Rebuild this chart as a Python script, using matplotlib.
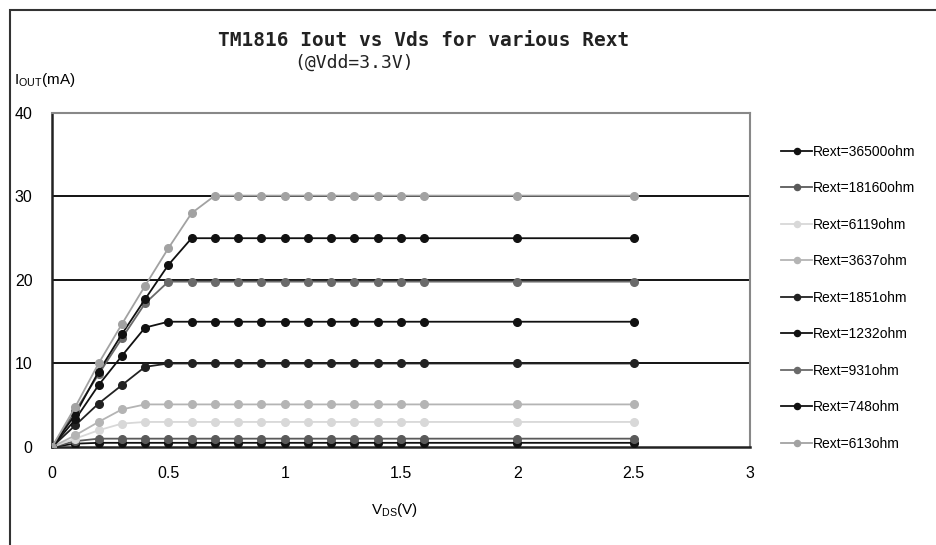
import matplotlib.pyplot as plt
from matplotlib.patches import Rectangle

# Vds sample points (V)
vds = [0, 0.1, 0.2, 0.3, 0.4, 0.5, 0.6, 0.7, 0.8, 0.9, 1.0,
       1.1, 1.2, 1.3, 1.4, 1.5, 1.6, 2.0, 2.5]

# Iout (mA)
r36500 = [0, 0.4, 0.5, 0.5, 0.5, 0.5, 0.5, 0.5, 0.5, 0.5, 0.5, 0.5, 0.5, 0.5, 0.5, 0.5, 0.5, 0.5, 0.5]
r18160 = [0, 0.7, 1.0, 1.0, 1.0, 1.0, 1.0, 1.0, 1.0, 1.0, 1.0, 1.0, 1.0, 1.0, 1.0, 1.0, 1.0, 1.0, 1.0]
r6119 = [0, 1.0, 2.0, 2.8, 3.0, 3.0, 3.0, 3.0, 3.0, 3.0, 3.0, 3.0, 3.0, 3.0, 3.0, 3.0, 3.0, 3.0, 3.0]
r3637 = [0, 1.4, 3.0, 4.5, 5.1, 5.1, 5.1, 5.1, 5.1, 5.1, 5.1, 5.1, 5.1, 5.1, 5.1, 5.1, 5.1, 5.1, 5.1]
r1851 = [0, 2.6, 5.2, 7.4, 9.6, 10.0, 10.0, 10.0, 10.0, 10.0, 10.0, 10.0, 10.0, 10.0, 10.0, 10.0, 10.0, 10.0, 10.0]
r1232 = [0, 3.3, 7.4, 10.9, 14.3, 15.0, 15.0, 15.0, 15.0, 15.0, 15.0, 15.0, 15.0, 15.0, 15.0, 15.0, 15.0, 15.0, 15.0]
r931 = [0, 4.3, 8.7, 13.0, 17.2, 19.8, 19.8, 19.8, 19.8, 19.8, 19.8, 19.8, 19.8, 19.8, 19.8, 19.8, 19.8, 19.8, 19.8]
r748 = [0, 3.9, 9.0, 13.5, 17.7, 21.8, 25.0, 25.0, 25.0, 25.0, 25.0, 25.0, 25.0, 25.0, 25.0, 25.0, 25.0, 25.0, 25.0]
r613 = [0, 4.8, 10.0, 14.7, 19.3, 23.8, 28.0, 30.1, 30.1, 30.1, 30.1, 30.1, 30.1, 30.1, 30.1, 30.1, 30.1, 30.1, 30.1]

labels = ['Rext=36500ohm', 'Rext=18160ohm', 'Rext=6119ohm', 'Rext=3637ohm',
          'Rext=1851ohm', 'Rext=1232ohm', 'Rext=931ohm', 'Rext=748ohm', 'Rext=613ohm']
series = [r36500, r18160, r6119, r3637, r1851, r1232, r931, r748, r613]
colors = ['#111111', '#5a5a5a', '#d8d8d8', '#b4b4b4', '#222222',
          '#111111', '#6a6a6a', '#111111', '#a2a2a2']

plt.rcParams['font.family'] = ['Liberation Sans', 'DejaVu Sans']

fig = plt.figure(figsize=(9.37, 5.45), dpi=100)
ax = fig.add_axes([0.0555, 0.1798, 0.745, 0.613])

# outer frame (left and top edges only visible)
fig.patches.append(Rectangle((0.0107, -0.05), 1.2, 1.032, transform=fig.transFigure,
                             fill=False, edgecolor='#333333', linewidth=1.5))

for y in [10, 20, 30]:
    ax.axhline(y, color='black', linewidth=1.3, zorder=1)

for vals, lab, c in zip(series, labels, colors):
    ax.plot(vds, vals, color=c, marker='o', markersize=5.5, linewidth=1.3,
            label=lab, zorder=3)

ax.set_xlim(0, 3)
ax.set_ylim(0, 40)
ax.set_xticks([0, 0.5, 1, 1.5, 2, 2.5, 3])
ax.set_xticklabels(['0', '0.5', '1', '1.5', '2', '2.5', '3'])
ax.set_yticks([0, 10, 20, 30, 40])
ax.tick_params(length=0, labelsize=11.5)
ax.tick_params(axis='y', pad=14)
ax.tick_params(axis='x', pad=14)

ax.spines['left'].set_color('#222222')
ax.spines['left'].set_linewidth(1.8)
ax.spines['bottom'].set_color('#222222')
ax.spines['bottom'].set_linewidth(1.8)
ax.spines['top'].set_color('#888888')
ax.spines['top'].set_linewidth(1.5)
ax.spines['right'].set_color('#888888')
ax.spines['right'].set_linewidth(1.5)

fig.text(0.452, 0.925, 'TM1816 Iout vs Vds for various Rext', ha='center', va='center',
         fontsize=14, family='DejaVu Sans Mono', fontweight='bold', color='#222222')
fig.text(0.378, 0.885, '(@Vdd=3.3V)', ha='center', va='center',
         fontsize=13, family='DejaVu Sans Mono', color='#222222')

fig.text(0.015, 0.853, r'I$_{\mathregular{OUT}}$(mA)', ha='left', va='center', fontsize=11)
fig.text(0.421, 0.065, r'V$_{\mathregular{DS}}$(V)', ha='center', va='center', fontsize=11)

ax.legend(loc='upper left', bbox_to_anchor=(0.828, 0.745), bbox_transform=fig.transFigure,
          frameon=False, fontsize=10, handlelength=2.2, handletextpad=0.1,
          labelspacing=1.62, markerscale=0.8, borderaxespad=0)

fig.savefig('out.png', dpi=100)
